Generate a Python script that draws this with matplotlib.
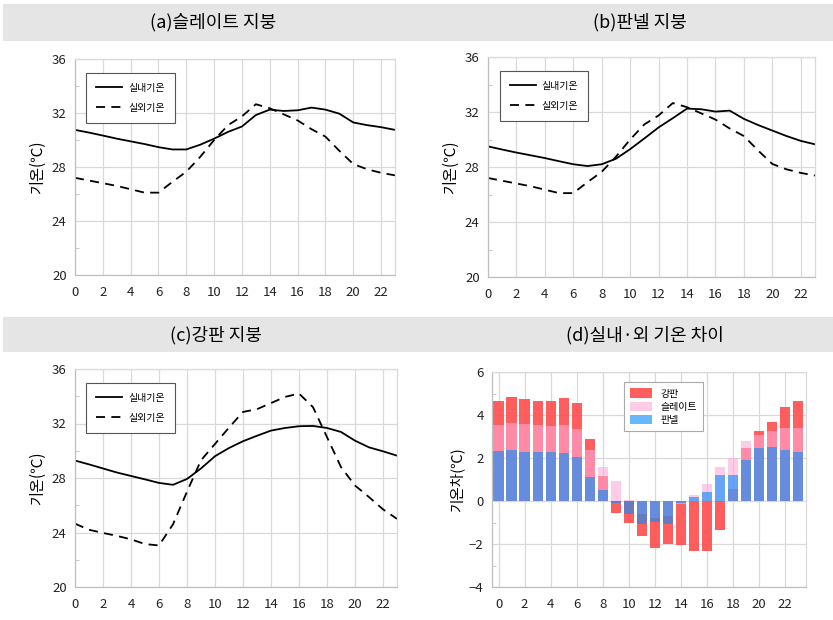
import matplotlib
matplotlib.use("Agg")
import matplotlib.pyplot as plt
from matplotlib.patches import Rectangle
from matplotlib.ticker import MultipleLocator

plt.rcParams['font.family'] = ['Noto Sans CJK KR', 'DejaVu Sans']

hours = list(range(24))
x_ticks = list(range(0, 24, 2))

# (a) slate roof
slate_in = [30.75, 30.55, 30.33, 30.1, 29.9, 29.7, 29.47, 29.3, 29.3, 29.65, 30.1, 30.6,
            31.0, 31.85, 32.25, 32.15, 32.2, 32.4, 32.25, 31.95, 31.3, 31.1, 30.95, 30.75]
# outdoor shared by (a) and (b)
out_ab = [27.2, 27.0, 26.8, 26.6, 26.35, 26.1, 26.1, 26.9, 27.65, 28.75, 30.0, 31.1,
          31.75, 32.65, 32.35, 31.9, 31.45, 30.8, 30.25, 29.2, 28.22, 27.83, 27.57, 27.38]
# (b) panel roof
panel_in = [29.5, 29.27, 29.05, 28.85, 28.65, 28.42, 28.2, 28.07, 28.2, 28.6, 29.3, 30.08,
            30.88, 31.55, 32.25, 32.2, 32.03, 32.1, 31.5, 31.05, 30.65, 30.25, 29.9, 29.65]
# (c) steel roof
steel_in = [29.28, 29.0, 28.7, 28.4, 28.15, 27.9, 27.64, 27.5, 27.93, 28.7, 29.6, 30.2,
            30.7, 31.1, 31.48, 31.67, 31.8, 31.82, 31.67, 31.38, 30.74, 30.25, 29.96, 29.64]
steel_out = [24.65, 24.2, 23.97, 23.75, 23.5, 23.15, 23.05, 24.6, 27.0, 29.3, 30.5, 31.7,
             32.85, 33.05, 33.5, 33.95, 34.2, 33.2, 31.0, 28.8, 27.45, 26.6, 25.7, 25.0]

# (d) indoor - outdoor differences
diff_steel = [4.63, 4.83, 4.74, 4.64, 4.63, 4.77, 4.55, 2.9, 1.15, -0.55, -1.04, -1.64,
              -2.18, -2.0, -2.06, -2.34, -2.34, -1.36, 0.55, 2.46, 3.27, 3.66, 4.39, 4.66]
diff_slate = [3.54, 3.63, 3.58, 3.55, 3.5, 3.54, 3.33, 2.37, 1.59, 0.93, 0.06, -0.6,
              -0.78, -0.7, -0.12, 0.27, 0.78, 1.59, 2.0, 2.77, 3.08, 3.27, 3.4, 3.4]
diff_panel = [2.34, 2.37, 2.3, 2.27, 2.27, 2.24, 2.06, 1.12, 0.5, -0.08, -0.59, -1.05,
              -0.98, -1.09, -0.1, 0.2, 0.44, 1.21, 1.21, 1.9, 2.46, 2.49, 2.38, 2.3]

titles = ['(a)슬레이트 지붕', '(b)판넬 지붕', '(c)강판 지붕', '(d)실내·외 기온 차이']
line_labels = ['실내기온', '실외기온']
bar_labels = ['강판', '슬레이트', '판넬']

W, H = 833, 620
fig = plt.figure(figsize=(W / 100, H / 100), dpi=100)

def fx(px):
    return px / W

def fy(py):
    return 1 - py / H

# title bands
for top, bot in [(4, 41), (317, 352)]:
    fig.patches.append(Rectangle((fx(3), fy(bot)), fx(833 - 3), (bot - top) / H,
                                 transform=fig.transFigure, facecolor='#e5e5e5',
                                 edgecolor='none', zorder=0))
fig.text(fx(213), fy(22.5), titles[0], ha='center', va='center', fontsize=13)
fig.text(fx(640), fy(22.5), titles[1], ha='center', va='center', fontsize=13)
fig.text(fx(216), fy(335), titles[2], ha='center', va='center', fontsize=13)
fig.text(fx(645), fy(335), titles[3], ha='center', va='center', fontsize=13)

grid_c = '#d9d9d9'

def style_axes(ax):
    for s in ax.spines.values():
        s.set_color(grid_c)
        s.set_linewidth(0.9)
    ax.spines['left'].set_color('#bfbfbf')
    ax.spines['bottom'].set_color('#bfbfbf')
    ax.tick_params(axis='both', which='major', length=0, labelsize=9.5, colors='#222222')
    ax.tick_params(axis='x', which='major', pad=8)
    ax.tick_params(axis='y', which='major', pad=6)
    ax.tick_params(axis='y', which='minor', length=3, direction='in', color='#bfbfbf')
    ax.grid(True, which='major', color=grid_c, linewidth=0.9)
    ax.set_axisbelow(True)

def line_panel(rect, tin, tout):
    ax = fig.add_axes(rect)
    ax.plot(hours, tin, color='black', lw=1.3, label=line_labels[0])
    ax.plot(hours, tout, color='black', lw=1.3, linestyle=(0, (5, 3.5)), label=line_labels[1])
    ax.set_xlim(0, 23)
    ax.set_ylim(20, 36)
    ax.set_xticks(x_ticks)
    ax.set_yticks([20, 24, 28, 32, 36])
    ax.yaxis.set_minor_locator(MultipleLocator(2))
    style_axes(ax)
    ax.set_ylabel('기온(℃)', fontsize=11, labelpad=4)
    leg = ax.legend(loc='upper left', bbox_to_anchor=(0.02, 0.96), fontsize=7.2,
                    fancybox=False, framealpha=1, edgecolor='#555555',
                    handlelength=2.6, handletextpad=0.6, borderpad=1.0, labelspacing=1.0)
    leg.get_frame().set_linewidth(0.8)
    return ax

line_panel([fx(75), fy(275), fx(320), 216 / H], slate_in, out_ab)
line_panel([fx(488), fy(277), fx(327), 220 / H], panel_in, out_ab)
line_panel([fx(75), fy(587), fx(322), 218 / H], steel_in, steel_out)

# (d)
axd = fig.add_axes([fx(492), fy(587), fx(314), 215 / H])
bw = 0.78
axd.bar(hours, diff_steel, width=bw, color=(1.0, 80 / 255, 80 / 255), alpha=0.92, label=bar_labels[0])
axd.bar(hours, diff_slate, width=bw, color=(1.0, 170 / 255, 215 / 255), alpha=0.6, label=bar_labels[1])
axd.bar(hours, diff_panel, width=bw, color=(10 / 255, 140 / 255, 1.0), alpha=0.62, label=bar_labels[2])
axd.set_xlim(-0.5, 23.6)
axd.set_ylim(-4, 6)
axd.set_xticks(x_ticks)
axd.set_yticks([-4, -2, 0, 2, 4, 6])
axd.yaxis.set_minor_locator(MultipleLocator(1))
style_axes(axd)
axd.set_ylabel('기온차(℃)', fontsize=10.5, labelpad=3)
legd = axd.legend(loc='upper left', bbox_to_anchor=(0.405, 0.975), fontsize=7.2,
                  fancybox=False, framealpha=1, edgecolor='#aaaaaa',
                  handlelength=2.2, handleheight=1.1, borderpad=0.6, labelspacing=0.3)
legd.get_frame().set_linewidth(0.8)

fig.savefig('out.png', dpi=100)
